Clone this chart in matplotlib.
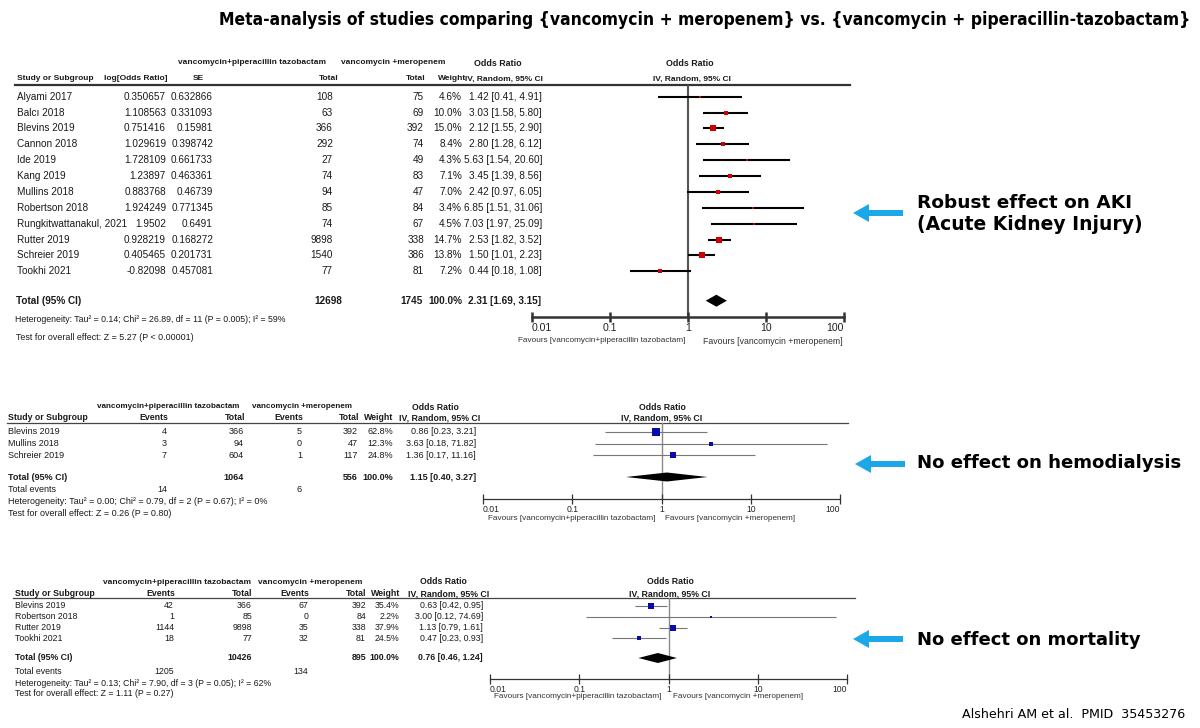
import math
import matplotlib
matplotlib.use("Agg")
import matplotlib.pyplot as plt
import matplotlib.font_manager as fm
from matplotlib.patches import FancyArrow
from matplotlib.ticker import NullLocator

# ---------------- data ----------------
TITLE = "Meta-analysis of studies comparing {vancomycin + meropenem} vs. {vancomycin + piperacillin-tazobactam}"
GROUP_A = "vancomycin+piperacillin tazobactam"
GROUP_B = "vancomycin +meropenem"
FAV_A = "Favours [vancomycin+piperacillin tazobactam]"
FAV_B = "Favours [vancomycin +meropenem]"

axis_ticks = [0.01, 0.1, 1, 10, 100]
axis_tick_labels = ["0.01", "0.1", "1", "10", "100"]

# AKI
aki_studies = ["Alyami 2017", "Balcı 2018", "Blevins 2019", "Cannon 2018", "Ide 2019", "Kang 2019",
               "Mullins 2018", "Robertson 2018", "Rungkitwattanakul, 2021", "Rutter 2019",
               "Schreier 2019", "Tookhi 2021"]
aki_log_or = [0.350657, 1.108563, 0.751416, 1.029619, 1.728109, 1.23897,
              0.883768, 1.924249, 1.9502, 0.928219, 0.405465, -0.82098]
aki_se = [0.632866, 0.331093, 0.15981, 0.398742, 0.661733, 0.463361,
          0.46739, 0.771345, 0.6491, 0.168272, 0.201731, 0.457081]
aki_total_a = [108, 63, 366, 292, 27, 74, 94, 85, 74, 9898, 1540, 77]
aki_total_b = [75, 69, 392, 74, 49, 83, 47, 84, 67, 338, 386, 81]
aki_weight = [4.6, 10.0, 15.0, 8.4, 4.3, 7.1, 7.0, 3.4, 4.5, 14.7, 13.8, 7.2]
aki_or = [1.42, 3.03, 2.12, 2.80, 5.63, 3.45, 2.42, 6.85, 7.03, 2.53, 1.50, 0.44]
aki_lo = [0.41, 1.58, 1.55, 1.28, 1.54, 1.39, 0.97, 1.51, 1.97, 1.82, 1.01, 0.18]
aki_hi = [4.91, 5.80, 2.90, 6.12, 20.60, 8.56, 6.05, 31.06, 25.09, 3.52, 2.23, 1.08]
aki_sum = [2.31, 1.69, 3.15]
aki_n = [12698, 1745]
aki_het = "Heterogeneity: Tau² = 0.14; Chi² = 26.89, df = 11 (P = 0.005); I² = 59%"
aki_test = "Test for overall effect: Z = 5.27 (P < 0.00001)"

# Hemodialysis
hd_studies = ["Blevins 2019", "Mullins 2018", "Schreier 2019"]
hd_ev_a = [4, 3, 7]
hd_n_a = [366, 94, 604]
hd_ev_b = [5, 0, 1]
hd_n_b = [392, 47, 117]
hd_weight = [62.8, 12.3, 24.8]
hd_or = [0.86, 3.63, 1.36]
hd_lo = [0.23, 0.18, 0.17]
hd_hi = [3.21, 71.82, 11.16]
hd_sum = [1.15, 0.40, 3.27]
hd_n = [1064, 556]
hd_events = [14, 6]
hd_het = "Heterogeneity: Tau² = 0.00; Chi² = 0.79, df = 2 (P = 0.67); I² = 0%"
hd_test = "Test for overall effect: Z = 0.26 (P = 0.80)"

# Mortality
mo_studies = ["Blevins 2019", "Robertson 2018", "Rutter 2019", "Tookhi 2021"]
mo_ev_a = [42, 1, 1144, 18]
mo_n_a = [366, 85, 9898, 77]
mo_ev_b = [67, 0, 35, 32]
mo_n_b = [392, 84, 338, 81]
mo_weight = [35.4, 2.2, 37.9, 24.5]
mo_or = [0.63, 3.00, 1.13, 0.47]
mo_lo = [0.42, 0.12, 0.79, 0.23]
mo_hi = [0.95, 74.69, 1.61, 0.93]
mo_sum = [0.76, 0.46, 1.24]
mo_n = [10426, 895]
mo_events = [1205, 134]
mo_het = "Heterogeneity: Tau² = 0.13; Chi² = 7.90, df = 3 (P = 0.05); I² = 62%"
mo_test = "Test for overall effect: Z = 1.11 (P = 0.27)"

notes = ["Robust effect on AKI", "(Acute Kidney Injury)", "No effect on hemodialysis", "No effect on mortality"]
CREDIT = "Alshehri AM et al.  PMID  35453276"

# ---------------- fonts ----------------
names = {f.name for f in fm.fontManager.ttflist}
NARROW = "Liberation Sans Narrow" if "Liberation Sans Narrow" in names else "Liberation Sans"
NSC = 1.0 if NARROW == "Liberation Sans Narrow" else 0.84
ARIAL = "Liberation Sans" if "Liberation Sans" in names else "DejaVu Sans"
cond_files = [f.fname for f in fm.fontManager.ttflist if "DejaVuSansCondensed-Bold.ttf" in f.fname]
if cond_files:
    TITLE_FP = fm.FontProperties(fname=cond_files[0])
else:
    TITLE_FP = fm.FontProperties(family=NARROW, weight="bold")

W, H = 1200, 728
fig = plt.figure(figsize=(W / 100, H / 100), dpi=100)
fig.patch.set_facecolor("white")
ov = fig.add_axes([0, 0, 1, 1])
ov.set_xlim(0, W)
ov.set_ylim(H, 0)
ov.axis("off")
renderer = fig.canvas.get_renderer()


def T(x, y, s, ha="left", fs=8, font=None, bold=False, color="#1a1a1a"):
    return ov.text(x, y, s, ha=ha, va="center", fontsize=fs, family=font or ARIAL,
                   fontweight="bold" if bold else "normal", color=color)


def fit(x, y, s, width, ha="left", **kw):
    t = ov.text(x, y, s, ha=ha, va="center", fontsize=10, **kw)
    bb = t.get_window_extent(renderer=renderer)
    t.set_fontsize(10 * width / bb.width)
    return t


def forest(x001, x100, ytop, ybot, ors, los, his, weights, rows_y, summ, sum_y, dh,
           ms_k, mcolor, ci_color, ci_lw, vcolor, vlw, spine_lw, tick_fs, font):
    ax = fig.add_axes([x001 / W, 1 - ybot / H, (x100 - x001) / W, (ybot - ytop) / H])
    ax.set_xscale("log")
    ax.set_xlim(axis_ticks[0], axis_ticks[-1])
    ax.set_ylim(ybot, ytop)
    ax.patch.set_visible(False)
    for s in ["top", "left", "right"]:
        ax.spines[s].set_visible(False)
    ax.spines["bottom"].set_linewidth(spine_lw)
    ax.spines["bottom"].set_color("#333333")
    ax.axvline(1, color=vcolor, lw=vlw, zorder=1)
    for o, l, h, w, y in zip(ors, los, his, weights, rows_y):
        ax.plot([l, h], [y, y], color=ci_color, lw=ci_lw, solid_capstyle="butt", zorder=2)
        ax.plot([o], [y], marker="s", ms=max(ms_k * math.sqrt(w), 1.6), color=mcolor, mec=mcolor,
                mew=0, ls="none", zorder=3)
    e, l, h = summ
    ax.fill([l, e, h, e], [sum_y, sum_y - dh, sum_y, sum_y + dh], color="black", lw=0, zorder=3)
    ax.set_yticks([])
    ax.set_xticks(axis_ticks)
    ax.xaxis.set_minor_locator(NullLocator())
    ax.set_xticklabels(axis_tick_labels, fontsize=tick_fs, family=font, color="#222222")
    ax.tick_params(axis="x", direction="inout", length=7, width=spine_lw, color="#333333", pad=1)
    labs = ax.get_xticklabels()
    labs[0].set_ha("left")
    labs[-1].set_ha("right")
    return ax


def ci_str(o, l, h):
    return f"{o:.2f} [{l:.2f}, {h:.2f}]"


# ---------------- title ----------------
fit(1190, 20, TITLE, 962, ha="right", fontproperties=TITLE_FP, color="black")

# ---------------- panel 1: AKI ----------------
fsn = 8.6 * NSC
hb = 6.0
T(252, 63, GROUP_A, "center", hb, NARROW, True)
T(393, 63, GROUP_B, "center", hb, NARROW, True)
T(498, 63, "Odds Ratio", "center", hb + 0.4, NARROW, True)
T(690, 63, "Odds Ratio", "center", hb + 0.4, NARROW, True)
T(17, 79, "Study or Subgroup", "left", hb, NARROW, True)
T(168, 79, "log[Odds Ratio]", "right", hb, NARROW, True)
T(198, 79, "SE", "center", hb, NARROW, True)
T(338, 79, "Total", "right", hb, NARROW, True)
T(425, 79, "Total", "right", hb, NARROW, True)
T(466, 79, "Weight", "right", hb, NARROW, True)
T(543, 79, "IV, Random, 95% CI", "right", hb, NARROW, True)
T(692, 79, "IV, Random, 95% CI", "center", hb, NARROW, True)
ov.plot([15, 850], [85, 85], color="#333333", lw=1.6)

r0, st = 96.7, 15.87
aki_rows = [r0 + i * st for i in range(len(aki_studies))]
for i, y in enumerate(aki_rows):
    T(17, y, aki_studies[i], "left", fsn, NARROW)
    T(166, y, str(aki_log_or[i]), "right", fsn, NARROW)
    T(213, y, str(aki_se[i]), "right", fsn, NARROW)
    T(333, y, str(aki_total_a[i]), "right", fsn, NARROW)
    T(424, y, str(aki_total_b[i]), "right", fsn, NARROW)
    T(462, y, f"{aki_weight[i]:.1f}%", "right", fsn, NARROW)
    T(542, y, ci_str(aki_or[i], aki_lo[i], aki_hi[i]), "right", fsn, NARROW)
ys = 300.7
T(16, ys, "Total (95% CI)", "left", fsn, NARROW, True)
T(342, ys, str(aki_n[0]), "right", fsn, NARROW, True)
T(423, ys, str(aki_n[1]), "right", fsn, NARROW, True)
T(462, ys, "100.0%", "right", fsn, NARROW, True)
T(541, ys, ci_str(*aki_sum), "right", fsn, NARROW, True)
fit(15, 319, aki_het, 270, ha="left", family=NARROW, color="#1a1a1a")
fit(16, 337, aki_test, 176, ha="left", family=NARROW, color="#1a1a1a")

forest(532, 844, 85, 317, aki_or, aki_lo, aki_hi, aki_weight, aki_rows, aki_sum, ys, 6,
       1.0, "#d40000", "black", 1.5, "#555555", 1.5, 1.8, 9.0 * NSC, NARROW)
fit(686, 341, FAV_A, 166, ha="right", family=NARROW, color="#333333")
fit(703, 341, FAV_B, 140, ha="left", family=NARROW, color="#333333")

# ---------------- panel 2: hemodialysis ----------------
fs2 = 6.5
hb2 = 5.9
T(168, 407, GROUP_A, "center", hb2, ARIAL, True)
T(302, 407, GROUP_B, "center", hb2, ARIAL, True)
T(435, 407, "Odds Ratio", "center", hb2 + 0.4, ARIAL, True)
T(662, 407, "Odds Ratio", "center", hb2 + 0.4, ARIAL, True)
T(8, 418, "Study or Subgroup", "left", hb2 + 0.4, ARIAL, True)
T(154, 418, "Events", "center", hb2 + 0.4, ARIAL, True)
T(245, 418, "Total", "right", hb2 + 0.4, ARIAL, True)
T(289, 418, "Events", "center", hb2 + 0.4, ARIAL, True)
T(359, 418, "Total", "right", hb2 + 0.4, ARIAL, True)
T(393, 418, "Weight", "right", hb2 + 0.4, ARIAL, True)
T(440, 418, "IV, Random, 95% CI", "center", hb2 + 0.4, ARIAL, True)
T(662, 418, "IV, Random, 95% CI", "center", hb2 + 0.4, ARIAL, True)
ov.plot([7, 848], [423, 423], color="#444444", lw=0.9)
hd_rows = [432 + i * 11.5 for i in range(len(hd_studies))]
for i, y in enumerate(hd_rows):
    T(8, y, hd_studies[i], "left", fs2)
    T(167, y, str(hd_ev_a[i]), "right", fs2)
    T(244, y, str(hd_n_a[i]), "right", fs2)
    T(302, y, str(hd_ev_b[i]), "right", fs2)
    T(358, y, str(hd_n_b[i]), "right", fs2)
    T(393, y, f"{hd_weight[i]:.1f}%", "right", fs2)
    T(476, y, ci_str(hd_or[i], hd_lo[i], hd_hi[i]), "right", fs2)
ys2 = 477
T(8, ys2, "Total (95% CI)", "left", fs2, ARIAL, True)
T(244, ys2, str(hd_n[0]), "right", fs2, ARIAL, True)
T(358, ys2, str(hd_n[1]), "right", fs2, ARIAL, True)
T(393, ys2, "100.0%", "right", fs2, ARIAL, True)
T(476, ys2, ci_str(*hd_sum), "right", fs2, ARIAL, True)
T(8, 490, "Total events", "left", fs2)
T(167, 490, str(hd_events[0]), "right", fs2)
T(302, 490, str(hd_events[1]), "right", fs2)
T(8, 502, hd_het, "left", fs2)
T(8, 514, hd_test, "left", fs2)
forest(483, 840, 423, 499, hd_or, hd_lo, hd_hi, hd_weight, hd_rows, hd_sum, ys2, 4.5,
       0.73, "#0b0ba8", "#777777", 0.8, "#8a8a8a", 1.0, 0.9, 6.2, ARIAL)
fit(655, 518, FAV_A, 168, ha="right", family=ARIAL, color="#333333")
fit(665, 518, FAV_B, 131, ha="left", family=ARIAL, color="#333333")

# ---------------- panel 3: mortality ----------------
fs3 = 6.3
hb3 = 6.0
T(177, 582, GROUP_A, "center", hb3, ARIAL, True)
T(310, 582, GROUP_B, "center", hb3, ARIAL, True)
T(443, 582, "Odds Ratio", "center", hb3 + 0.3, ARIAL, True)
T(670, 582, "Odds Ratio", "center", hb3 + 0.3, ARIAL, True)
T(15, 594, "Study or Subgroup", "left", hb3 + 0.3, ARIAL, True)
T(161, 594, "Events", "center", hb3 + 0.3, ARIAL, True)
T(252, 594, "Total", "right", hb3 + 0.3, ARIAL, True)
T(295, 594, "Events", "center", hb3 + 0.3, ARIAL, True)
T(366, 594, "Total", "right", hb3 + 0.3, ARIAL, True)
T(400, 594, "Weight", "right", hb3 + 0.3, ARIAL, True)
T(449, 594, "IV, Random, 95% CI", "center", hb3 + 0.3, ARIAL, True)
T(670, 594, "IV, Random, 95% CI", "center", hb3 + 0.3, ARIAL, True)
ov.plot([13, 855], [598, 598], color="#444444", lw=0.9)
mo_rows = [605.7 + i * 10.9 for i in range(len(mo_studies))]
for i, y in enumerate(mo_rows):
    T(15, y, mo_studies[i], "left", fs3)
    T(174, y, str(mo_ev_a[i]), "right", fs3)
    T(252, y, str(mo_n_a[i]), "right", fs3)
    T(308, y, str(mo_ev_b[i]), "right", fs3)
    T(366, y, str(mo_n_b[i]), "right", fs3)
    T(399, y, f"{mo_weight[i]:.1f}%", "right", fs3)
    T(483, y, ci_str(mo_or[i], mo_lo[i], mo_hi[i]), "right", fs3)
ys3 = 658
T(15, ys3, "Total (95% CI)", "left", fs3, ARIAL, True)
T(252, ys3, str(mo_n[0]), "right", fs3, ARIAL, True)
T(366, ys3, str(mo_n[1]), "right", fs3, ARIAL, True)
T(399, ys3, "100.0%", "right", fs3, ARIAL, True)
T(483, ys3, ci_str(*mo_sum), "right", fs3, ARIAL, True)
T(15, 672, "Total events", "left", fs3)
T(174, 672, str(mo_events[0]), "right", fs3)
T(308, 672, str(mo_events[1]), "right", fs3)
T(15, 683, mo_het, "left", fs3)
T(15, 693, mo_test, "left", fs3)
forest(490, 847, 598, 679, mo_or, mo_lo, mo_hi, mo_weight, mo_rows, mo_sum, ys3, 5,
       0.70, "#0b0ba8", "#777777", 0.8, "#8a8a8a", 1.0, 0.9, 6.2, ARIAL)
fit(662, 697, FAV_A, 167, ha="right", family=ARIAL, color="#333333")
fit(673, 697, FAV_B, 130, ha="left", family=ARIAL, color="#333333")

# ---------------- arrows & notes ----------------
BLUE = "#1ca8e8"
for tail, tip, y in [(903, 853, 213), (905, 855, 464), (903, 853, 639)]:
    ov.add_patch(FancyArrow(tail, y, tip - tail, 0, width=6, head_width=18, head_length=16,
                            length_includes_head=True, color=BLUE, lw=0))
fit(917, 203, notes[0], 215, ha="left", family="DejaVu Sans", fontweight="bold", color="black")
fit(917, 225, notes[1], 225, ha="left", family="DejaVu Sans", fontweight="bold", color="black")
fit(917, 463, notes[2], 266, ha="left", family="DejaVu Sans", fontweight="bold", color="black")
fit(917, 640, notes[3], 225, ha="left", family="DejaVu Sans", fontweight="bold", color="black")
fit(962, 715, CREDIT, 223, ha="left", family="DejaVu Sans", color="black")

fig.savefig("out.png", dpi=100, facecolor="white")
